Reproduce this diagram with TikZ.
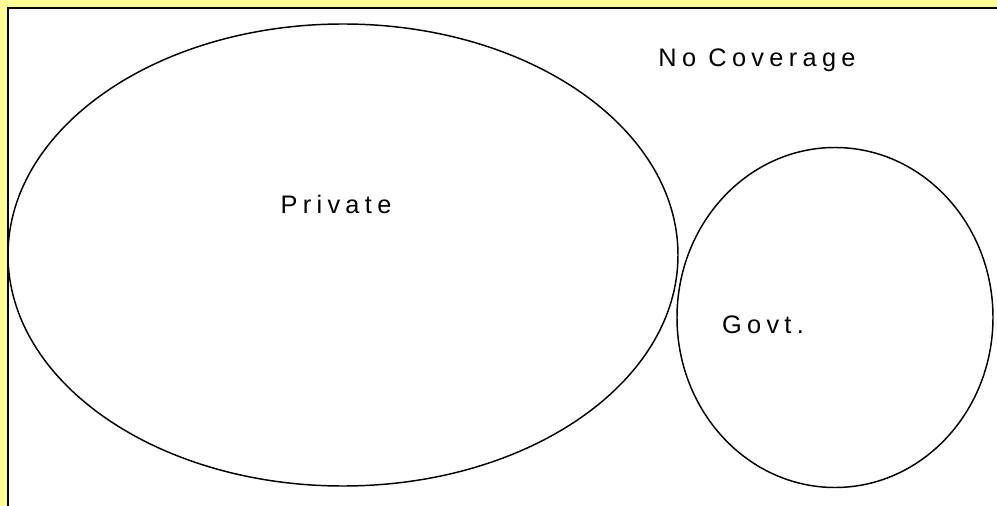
\documentclass[tikz,border=0pt]{standalone}
\usepackage{fontspec}
\setmainfont{Liberation Sans}[LetterSpace=21]
\definecolor{frameyellow}{HTML}{FFFF99}
\begin{document}
\begin{tikzpicture}[x=0.75pt,y=-0.75pt,
  shapeline/.style={draw=black,line width=1.1pt},
  lbl/.style={font=\fontsize{19pt}{22pt}\selectfont,inner sep=0pt,anchor=base}]
\useasboundingbox (0,0) rectangle (997,506);
\fill[frameyellow] (0,0) rectangle (997,506);
\fill[white] (8,8) rectangle (997,506);
\draw[line width=2.2pt] (8,506) -- (8,8) -- (997,8);
\draw[shapeline] (343,255) ellipse [x radius=335, y radius=231];
\draw[shapeline] (835,317.5) ellipse [x radius=158, y radius=170];
\node[lbl] (nocov) at (757,67) {No Coverage};
\node[lbl] (priv) at (336,214) {Private};
\node[lbl] (govt) at (763,334) {Govt.};
\end{tikzpicture}
\end{document}
